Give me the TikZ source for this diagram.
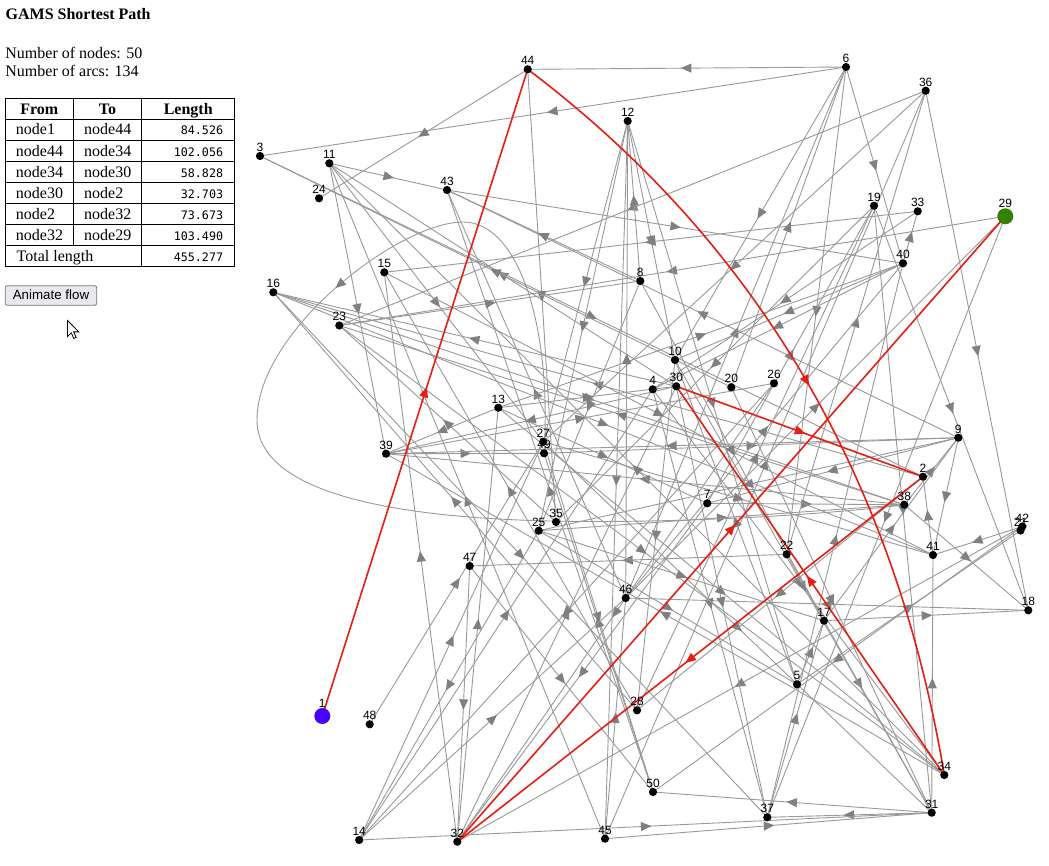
\documentclass[tikz,border=0pt]{standalone}
\usepackage{fontspec}
\setmainfont{Liberation Serif}
\setsansfont{Liberation Sans}
\newfontfamily\monofnt{DejaVu Sans Mono}
\usetikzlibrary{arrows.meta,decorations.markings}
\definecolor{edgegray}{RGB}{153,153,153}
\definecolor{arrowgray}{RGB}{128,128,128}
\definecolor{pathred}{RGB}{230,30,20}
\definecolor{startblue}{RGB}{72,0,255}
\definecolor{endgreen}{RGB}{52,128,0}
\definecolor{btnfill}{RGB}{233,233,237}
\definecolor{btnborder}{RGB}{118,118,118}
\pgfdeclarelayer{edges}
\pgfsetlayers{edges,main}
\tikzset{
  gedge/.style={draw=edgegray, line width=0.9pt, postaction={decorate},
    decoration={markings, mark=at position 0.5 with {\fill[arrowgray] (6pt,0pt) -- (-4.5pt,4.6pt) -- (-4.5pt,-4.6pt) -- cycle;}}},
  loopedge/.style={draw=edgegray, line width=0.9pt, postaction={decorate},
    decoration={markings, mark=at position #1 with {\fill[arrowgray] (6pt,0pt) -- (-4.5pt,4.6pt) -- (-4.5pt,-4.6pt) -- cycle;}}},
  redge/.style={draw=pathred, line width=1.6pt, postaction={decorate},
    decoration={markings, mark=at position 0.5 with {\fill[pathred] (6pt,0pt) -- (-4.5pt,4.6pt) -- (-4.5pt,-4.6pt) -- cycle;}}},
  dot/.style={circle, fill=black, inner sep=0pt, minimum size=8.2pt, label distance=3.4pt},
  bigdot/.style={circle, inner sep=0pt, minimum size=16pt, label distance=3.4pt},
  numlab/.style={font=\fontsize{12}{13}\sffamily, inner sep=0pt},
  cell/.style={font=\fontsize{16}{18}\selectfont, inner sep=0pt},
  hcell/.style={font=\fontsize{16}{18}\selectfont\bfseries, inner sep=0pt, anchor=base},
  numcell/.style={font=\fontsize{11.7}{13}\monofnt, inner sep=0pt, anchor=base east},
}
\begin{document}
\begin{tikzpicture}[x=1pt,y=-1pt]
\useasboundingbox (0,0) rectangle (1049,866);
\begin{pgfonlayer}{edges}
\fill[white] (0,0) rectangle (1049,866);
\end{pgfonlayer}

% ---- left panel ----
\node[font=\fontsize{16}{18}\selectfont\bfseries, inner sep=0pt, anchor=base west] (title) at (5.5,19.3) {GAMS Shortest Path};
\node[cell, anchor=base west] (nnodes) at (5.2,59) {Number of nodes: 50};
\node[cell, anchor=base west] (narcs) at (5.2,76.5) {Number of arcs: 134};

\draw[black, line width=0.9pt] (5.3,98.7) rectangle (234.7,266.7);
\foreach \yy in {119.3,140.3,161.5,182.6,203.6,224.6,245.5}
  \draw[black, line width=0.9pt] (5.3,\yy) -- (234.7,\yy);
\draw[black, line width=0.9pt] (73.3,98.7) -- (73.3,245.5);
\draw[black, line width=0.9pt] (141.7,98.7) -- (141.7,266.7);
\node[hcell] (hfrom) at (39.3,115) {From};
\node[hcell] (hto) at (107.5,115) {To};
\node[hcell] (hlen) at (188.2,115) {Length};
\foreach \i/\f/\t/\l in {0/node1/node44/84.526, 1/node44/node34/102.056, 2/node34/node30/58.828, 3/node30/node2/32.703, 4/node2/node32/73.673, 5/node32/node29/103.490} {
  \node[cell, anchor=base west] (rf\i) at (15.7,135+21.07*\i) {\f};
  \node[cell, anchor=base west] (rt\i) at (84,135+21.07*\i) {\t};
  \node[numcell] (rl\i) at (223.3,135+21.07*\i) {\l};
}
\node[cell, anchor=base west] (totlab) at (16.5,261.4) {Total length};
\node[numcell] (totval) at (223.3,261.4) {455.277};

\draw[btnborder, fill=btnfill, line width=0.8pt, rounded corners=2pt] (5.3,285.7) rectangle (96.7,305.3);
\node[font=\fontsize{13.33}{15}\sffamily, inner sep=0pt, anchor=base] (btn) at (51,300) {Animate flow};

\draw[black, fill=white, line width=0.8pt, line join=miter]
  (67.5,320.5) -- ++(0,16) -- ++(3.8,-3.7) -- ++(2.5,5.7) -- ++(2.3,-1) -- ++(-2.4,-5.6) -- ++(5.1,0) -- cycle;

% ---- nodes ----
\node[bigdot, fill=startblue, label={[numlab]above:1}] (n1) at (322.3,716) {};
\node[bigdot, fill=endgreen, label={[numlab]above:29}] (n29) at (1005.3,216.3) {};
\foreach \n/\x/\y in {
 2/923/476.7, 3/260/156, 4/652.7/389.3, 5/797/684.3, 6/846/67, 7/707.3/503.3, 8/640.3/281,
 9/958.3/437.7, 10/675/360, 11/329.3/163.3, 12/627.7/121, 13/498.3/407.7, 14/359.2/840,
 15/384.3/272.3, 16/273.3/292.3, 17/824/620.7, 18/1028.3/610.3, 19/874/205.7, 20/731.3/387.3,
 21/1020.5/530.5, 42/1022.3/526.5, 22/786.7/554.3, 23/339.3/325.5, 24/319/198.3, 25/538.7/530.7,
 26/774/383.3, 49/544/453.3, 27/543.3/441.7, 28/637/710.3, 30/676.3/386.3, 31/931.7/812.7,
 32/457.3/841.7, 33/917.7/211.3, 34/944.3/775, 35/556/522, 36/925.7/90.7, 37/767.3/817.3,
 38/904.3/504.7, 39/386/453.7, 40/903/263.3, 41/933/555, 43/447/190, 44/527.7/69.3,
 45/605/838.7, 46/625.7/598, 47/469.7/566, 48/369.7/724.3, 50/653/792}
  \node[dot, label={[numlab]above:\n}] (n\n) at (\x,\y) {};

% ---- gray arcs ----
\begin{pgfonlayer}{edges}
\foreach \a/\b in {
 6/44, 6/3, 44/24, 11/43, 30/11, 11/39, 11/27, 36/23, 8/12, 6/10,
 33/15, 12/10, 12/27, 36/27, 29/23, 3/2, 9/43, 40/10, 20/6, 6/40,
 40/33, 40/4, 22/36, 30/16, 13/39, 35/23, 39/49, 28/16, 45/11, 32/15,
 48/27, 46/43, 16/38, 13/30, 2/16, 39/26, 38/23, 13/7, 12/45, 38/39,
 49/9, 50/43, 25/38, 10/28, 22/47, 19/35, 13/40, 46/6, 46/12, 46/29,
 19/18, 38/9, 9/7, 9/41, 7/38, 17/9, 41/2, 42/41, 4/34, 18/46,
 5/21, 17/18, 5/17, 42/50, 22/31, 31/41, 37/17, 31/50, 31/37, 14/31,
 45/31, 45/46, 42/32, 47/50, 7/32, 32/30, 27/50, 26/32, 50/49, 4/37,
 30/37, 14/4, 14/27, 32/13, 47/32, 14/46, 36/18, 28/19, 30/39, 12/25,
 12/5, 44/35, 20/3, 26/14, 25/14, 19/31, 29/37, 33/4, 6/22, 37/40,
 15/41, 16/41, 27/41, 25/5, 16/37, 10/31, 27/31, 34/39, 23/34, 13/34,
 43/40, 8/25, 8/17, 23/8, 45/36, 8/43, 28/15, 34/11, 46/40, 9/25,
 5/10, 25/17, 9/39, 2/28, 20/31, 7/19, 38/18}
  \draw[gedge] (n\a.center) -- (n\b.center);
\draw[loopedge=405pt] (n49.center) .. controls (552,330) and (520,222) .. (463,222)
  .. controls (400,222) and (257,330) .. (257,420)
  .. controls (257,500) and (420,518) .. (550,521)
  .. controls (700,524) and (850,512) .. (n38.center);
% ---- shortest path ----
\draw[redge] (n1.center) -- (n44.center);
\draw[redge] (n44.center) .. controls (756,241.7) and (894.7,477) .. (n34.center);
\draw[redge] (n34.center) -- (n30.center);
\draw[redge] (n30.center) -- (n2.center);
\draw[redge] (n2.center) -- (n32.center);
\draw[redge] (n32.center) -- (n29.center);
\end{pgfonlayer}
\end{tikzpicture}
\end{document}
